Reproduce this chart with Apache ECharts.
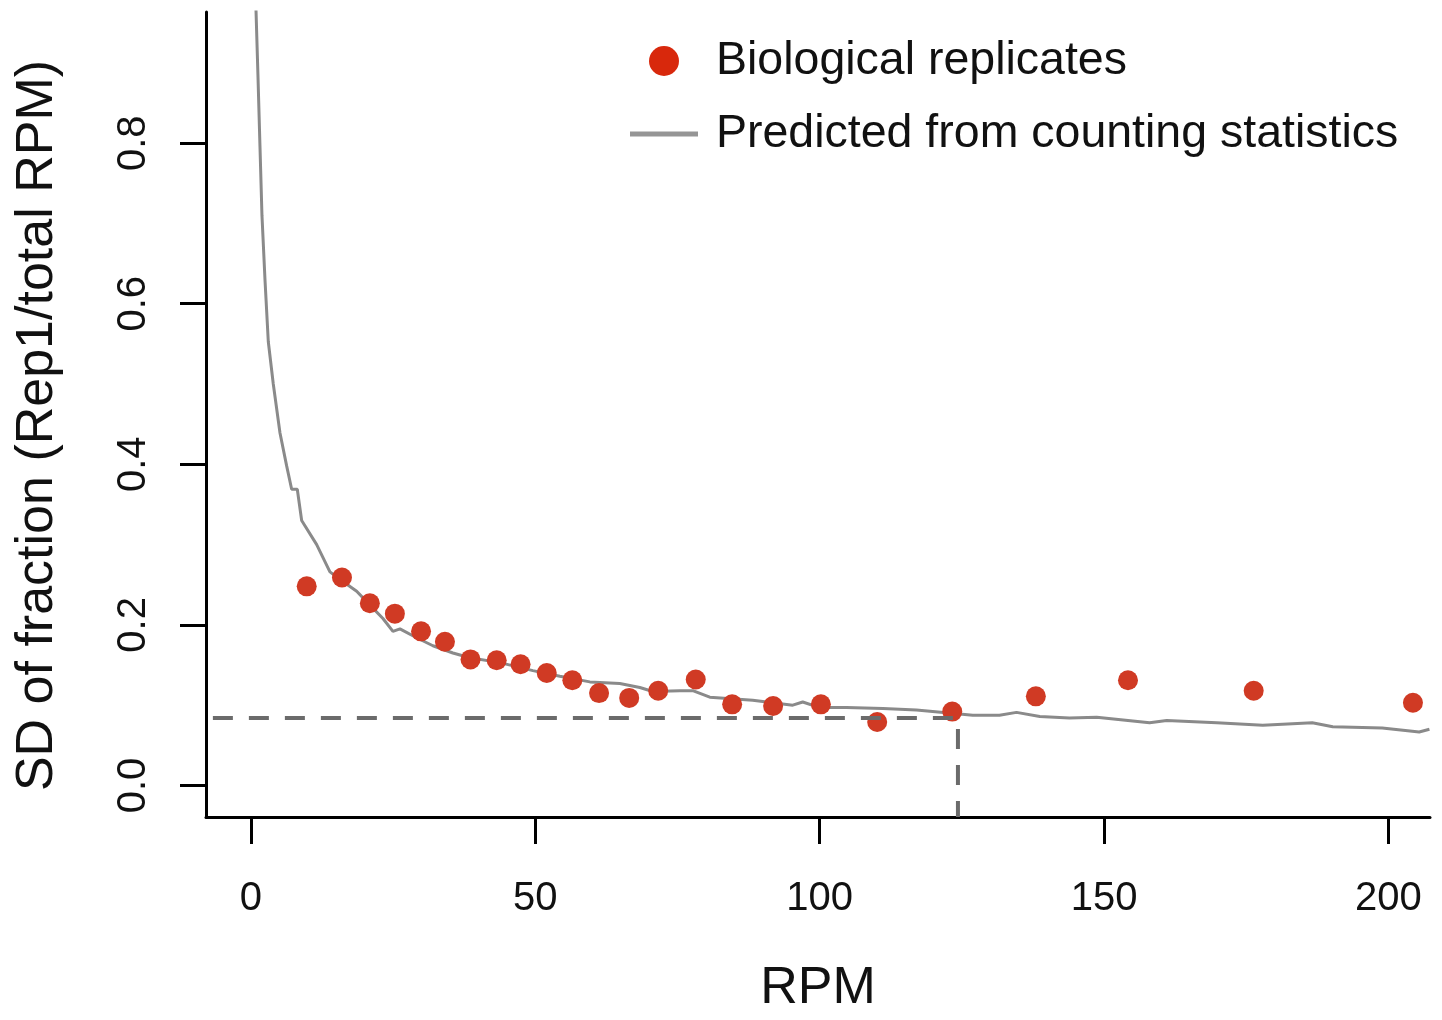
<!DOCTYPE html>
<html>
<head>
<meta charset="utf-8">
<script src="https://cdn.jsdelivr.net/npm/echarts@6/dist/echarts.min.js"></script>
<style>
html,body{margin:0;padding:0;background:#fff;overflow:hidden;}
#chart{width:1442px;height:1020px;}
</style>
</head>
<body>
<div id="chart"></div>
<script>
// ---- data ----
const xTicks = [0, 50, 100, 150, 200];
const yTicks = [0, 0.2, 0.4, 0.6, 0.8];

const replicateRPM = [9.8, 16.0, 20.9, 25.3, 29.9, 34.1, 38.6, 43.2, 47.4, 52.0, 56.5, 61.2,
  66.5, 71.6, 78.2, 84.6, 91.8, 100.2, 110.1, 123.3, 138.0, 154.2, 176.3, 204.3];
const replicateSD = [0.248, 0.259, 0.227, 0.214, 0.192, 0.179, 0.157, 0.156, 0.151, 0.140, 0.131, 0.115,
  0.109, 0.118, 0.132, 0.101, 0.099, 0.101, 0.079, 0.092, 0.111, 0.131, 0.118, 0.103];

const predictedRPM = [0.88, 1.23, 1.58, 1.93, 2.46, 3.04, 3.92, 5.10, 6.27, 7.15, 8.14, 8.91,
  11.55, 13.88, 16.17, 18.58, 20.33, 23.20, 24.96, 26.19, 29.12, 31.99, 35.50, 38.49, 43.76,
  49.56, 54.31, 59.58, 64.85, 68.37, 70.65, 75.40, 77.68, 80.67, 88.22, 95.25, 97.01, 100.0,
  104.7, 111.1, 117.0, 124.6, 126.9, 131.6, 134.6, 138.7, 143.9, 148.7, 158.0, 161.0, 169.8,
  177.9, 186.6, 190.2, 198.9, 205.4, 207.2];
const predictedSD = [0.966, 0.883, 0.796, 0.710, 0.630, 0.553, 0.500, 0.439, 0.398, 0.369, 0.369, 0.330,
  0.300, 0.266, 0.254, 0.242, 0.229, 0.208, 0.192, 0.195, 0.184, 0.174, 0.165, 0.159, 0.153,
  0.143, 0.136, 0.129, 0.127, 0.122, 0.117, 0.118, 0.118, 0.110, 0.106, 0.100, 0.104, 0.097,
  0.097, 0.096, 0.094, 0.089, 0.0875, 0.0875, 0.091, 0.086, 0.084, 0.085, 0.078, 0.081, 0.078,
  0.075, 0.078, 0.073, 0.0715, 0.0666, 0.070];

const cutoffLineRPM = [-6.7, 124.3, 124.3];
const cutoffLineSD = [0.084, 0.084, -0.0393];

const xRange = [-7.91, 207.3];
const yRange = [-0.0393, 0.9634];

// ---- build chart ----
const zip = (a, b) => a.map((v, i) => [v, b[i]]);
const FONT = 'Liberation Sans, Arial, Helvetica, sans-serif';

const chart = echarts.init(document.getElementById('chart'), null, {renderer: 'canvas', width: 1442, height: 1020});
chart.setOption({
  backgroundColor: '#ffffff',
  animation: false,
  grid: {left: 206, top: 12, width: 1224, height: 816, containLabel: false},
  legend: {
    orient: 'vertical',
    left: 630,
    top: 35,
    padding: 0,
    itemWidth: 68,
    itemHeight: 30,
    itemGap: 21,
    textStyle: {fontFamily: FONT, fontSize: 46.5, color: '#111', lineHeight: 52, padding: [0, 0, 0, 13]},
    data: [
      {name: 'Biological replicates', icon: 'circle', itemStyle: {color: '#d8280c'}},
      {name: 'Predicted from counting statistics', icon: 'path://M0,0 H68 V5 H0 Z', itemStyle: {color: '#959595'}}
    ]
  },
  xAxis: {
    type: 'value',
    min: xRange[0], max: xRange[1],
    name: 'RPM',
    nameLocation: 'middle',
    nameGap: 146,
    nameTextStyle: {fontFamily: FONT, fontSize: 52, color: '#111'},
    axisLine: {show: true, onZero: false, lineStyle: {color: '#000', width: 3}},
    axisTick: {show: true, customValues: xTicks, length: 27, inside: false, lineStyle: {color: '#000', width: 3}},
    axisLabel: {customValues: xTicks, margin: 62, fontFamily: FONT, fontSize: 40, color: '#111',
      formatter: v => String(v)},
    splitLine: {show: false}
  },
  yAxis: {
    type: 'value',
    min: yRange[0], max: yRange[1],
    name: 'SD of fraction (Rep1/total RPM)',
    nameLocation: 'middle',
    nameGap: 142,
    nameRotate: 90,
    nameTextStyle: {fontFamily: FONT, fontSize: 52, color: '#111', padding: [0, 22, 0, 0]},
    axisLine: {show: true, onZero: false, lineStyle: {color: '#000', width: 3}},
    axisTick: {show: true, customValues: yTicks, length: 26, inside: false, lineStyle: {color: '#000', width: 3}},
    axisLabel: {customValues: yTicks, rotate: 90, margin: 52, fontFamily: FONT, fontSize: 40, color: '#111',
      formatter: v => v.toFixed(1)},
    splitLine: {show: false}
  },
  series: [
    {
      name: 'Predicted from counting statistics',
      type: 'line',
      data: zip(predictedRPM, predictedSD),
      symbol: 'none',
      clip: true,
      lineStyle: {color: '#8a8a8a', width: 3},
      itemStyle: {color: '#959595'},
      z: 2
    },
    {
      name: 'Biological replicates',
      type: 'scatter',
      data: zip(replicateRPM, replicateSD),
      symbol: 'circle',
      symbolSize: 20,
      itemStyle: {color: '#d03a24', opacity: 1},
      z: 3
    },
    {
      name: 'cutoff',
      type: 'line',
      data: zip(cutoffLineRPM, cutoffLineSD),
      symbol: 'none',
      clip: false,
      lineStyle: {color: '#6b6b6b', width: 4, type: [20, 16]},
      z: 4
    }
  ]
});
</script>
</body>
</html>
